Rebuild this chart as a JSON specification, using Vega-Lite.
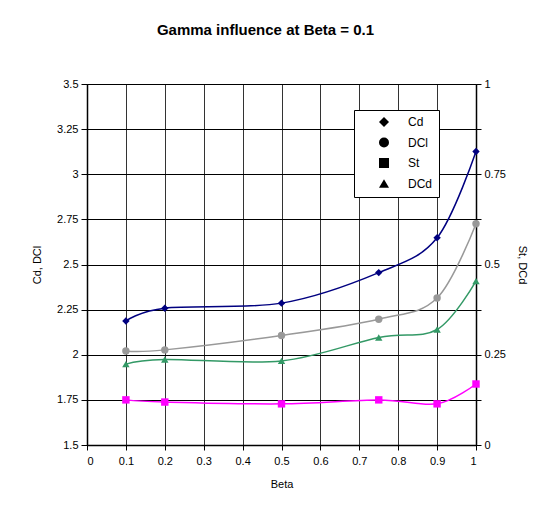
{
  "$schema": "https://vega.github.io/schema/vega-lite/v6.json",
  "autosize": {"type": "none"},
  "width": 389,
  "height": 361,
  "padding": {"left": 87, "top": 84, "right": 73, "bottom": 73},
  "background": "white",
  "title": {
    "text": "Gamma influence at Beta = 0.1",
    "font": "Liberation Sans",
    "fontSize": 15,
    "fontWeight": "bold",
    "color": "black",
    "anchor": "middle",
    "dx": -16,
    "offset": 40
  },
  "data": {
    "values": [
      {"Beta": 0.1, "series": "Cd", "value": 2.187},
      {"Beta": 0.2, "series": "Cd", "value": 2.258},
      {"Beta": 0.5, "series": "Cd", "value": 2.286},
      {"Beta": 0.75, "series": "Cd", "value": 2.455},
      {"Beta": 0.9, "series": "Cd", "value": 2.648},
      {"Beta": 1.0, "series": "Cd", "value": 3.126},
      {"Beta": 0.1, "series": "DCl", "value": 2.021},
      {"Beta": 0.2, "series": "DCl", "value": 2.027},
      {"Beta": 0.5, "series": "DCl", "value": 2.107},
      {"Beta": 0.75, "series": "DCl", "value": 2.197},
      {"Beta": 0.9, "series": "DCl", "value": 2.314},
      {"Beta": 1.0, "series": "DCl", "value": 2.726},
      {"Beta": 0.1, "series": "St", "value": 0.125},
      {"Beta": 0.2, "series": "St", "value": 0.119},
      {"Beta": 0.5, "series": "St", "value": 0.114},
      {"Beta": 0.75, "series": "St", "value": 0.125},
      {"Beta": 0.9, "series": "St", "value": 0.114},
      {"Beta": 1.0, "series": "St", "value": 0.169},
      {"Beta": 0.1, "series": "DCd", "value": 0.224},
      {"Beta": 0.2, "series": "DCd", "value": 0.237},
      {"Beta": 0.5, "series": "DCd", "value": 0.233},
      {"Beta": 0.75, "series": "DCd", "value": 0.298},
      {"Beta": 0.9, "series": "DCd", "value": 0.32},
      {"Beta": 1.0, "series": "DCd", "value": 0.454}
    ]
  },
  "encoding": {
    "x": {
      "field": "Beta",
      "type": "quantitative",
      "scale": {"domain": [0, 1], "nice": false, "zero": false},
      "axis": {
        "title": "Beta",
        "values": [0, 0.1, 0.2, 0.3, 0.4, 0.5, 0.6, 0.7, 0.8, 0.9, 1],
        "labelExpr": "format(datum.value, '.4~g')",
        "grid": true,
        "gridColor": "#333333",
        "gridWidth": 1,
        "tickSize": 5,
        "labelPadding": 5,
        "titlePadding": 12
      }
    }
  },
  "layer": [
    {
      "transform": [{"filter": "datum.series === 'Cd' || datum.series === 'DCl'"}],
      "encoding": {
        "y": {
          "field": "value",
          "type": "quantitative",
          "scale": {"domain": [1.5, 3.5], "nice": false, "zero": false},
          "axis": {
            "title": "Cd, DCl",
            "orient": "left",
            "values": [1.5, 1.75, 2, 2.25, 2.5, 2.75, 3, 3.25, 3.5],
            "labelExpr": "format(datum.value, '.4~g')",
            "grid": true,
            "gridColor": "black",
            "gridWidth": 1,
            "tickSize": 6,
            "labelPadding": 3,
            "titlePadding": 14
          }
        }
      },
      "layer": [
        {
          "mark": {"type": "line", "interpolate": "cardinal", "strokeWidth": 1.5},
          "encoding": {
            "color": {"field": "series", "type": "nominal", "sort": ["Cd", "DCl", "St", "DCd"], "legend": null},
            "detail": {"field": "series"}
          }
        },
        {
          "mark": {"type": "point", "filled": true, "opacity": 1},
          "encoding": {
            "color": {"field": "series", "type": "nominal", "sort": ["Cd", "DCl", "St", "DCd"], "title": null},
            "shape": {
              "field": "series",
              "type": "nominal",
              "sort": ["Cd", "DCl", "St", "DCd"],
              "title": null,
              "legend": {
                "encode": {
                  "symbols": {
                    "update": {
                      "shape": {"signal": "datum.value === 'Cd' ? 'M-4.6,0L4.6,0M0,-0.8L0.8,0L0,0.8L-0.8,0Z' : datum.value === 'DCl' ? 'M-4.6,0L4.6,0M0.6,0A0.6,0.6,0,1,1,-0.6,0A0.6,0.6,0,1,1,0.6,0Z' : datum.value === 'St' ? 'M-4.6,0L4.6,0M-0.7,-0.7L0.7,-0.7L0.7,0.7L-0.7,0.7Z' : 'M-4.6,0L4.6,0M0,-0.9L0.9,0.7L-0.9,0.7Z'"},
                      "fill": {"signal": "datum.value === 'Cd' ? '#000080' : datum.value === 'DCl' ? '#999999' : datum.value === 'St' ? '#FF00FF' : '#339966'"},
                      "stroke": {"signal": "datum.value === 'Cd' ? '#000080' : datum.value === 'DCl' ? '#999999' : datum.value === 'St' ? '#FF00FF' : '#339966'"},
                      "strokeWidth": {"value": 1.5}
                    }
                  }
                }
              }
            },
            "size": {"value": 55}
          }
        }
      ]
    },
    {
      "transform": [{"filter": "datum.series === 'St' || datum.series === 'DCd'"}],
      "encoding": {
        "y": {
          "field": "value",
          "type": "quantitative",
          "scale": {"domain": [0, 1], "nice": false, "zero": false},
          "axis": {
            "title": "St, DCd",
            "orient": "right",
            "values": [0, 0.125, 0.25, 0.375, 0.5, 0.625, 0.75, 0.875, 1],
            "labelExpr": "(datum.value * 4) % 1 === 0 ? format(datum.value, '.4~g') : ''",
            "grid": false,
            "tickSize": 5,
            "labelPadding": 3,
            "titlePadding": 11,
            "titleAngle": 90
          }
        }
      },
      "layer": [
        {
          "mark": {"type": "line", "interpolate": "cardinal", "strokeWidth": 1.5},
          "encoding": {
            "color": {"field": "series", "type": "nominal", "sort": ["Cd", "DCl", "St", "DCd"], "legend": null},
            "detail": {"field": "series"}
          }
        },
        {
          "mark": {"type": "point", "filled": true, "opacity": 1},
          "encoding": {
            "color": {"field": "series", "type": "nominal", "sort": ["Cd", "DCl", "St", "DCd"], "title": null},
            "shape": {"field": "series", "type": "nominal", "sort": ["Cd", "DCl", "St", "DCd"], "title": null},
            "size": {"value": 55}
          }
        }
      ]
    }
  ],
  "resolve": {"scale": {"y": "independent"}},
  "config": {
    "font": "Liberation Sans",
    "view": {"stroke": "black", "strokeWidth": 1},
    "range": {
      "category": ["#000080", "#999999", "#FF00FF", "#339966"],
      "symbol": ["diamond", "circle", "square", "triangle-up"]
    },
    "axis": {
      "labelFont": "Liberation Sans",
      "labelFontSize": 11,
      "labelColor": "black",
      "titleFont": "Liberation Sans",
      "titleFontSize": 11,
      "titleFontWeight": "normal",
      "titleColor": "black",
      "domainColor": "black",
      "domainWidth": 1.5,
      "tickColor": "black",
      "tickWidth": 1
    },
    "legend": {
      "orient": "none",
      "legendX": 267,
      "legendY": 26,
      "padding": 6,
      "strokeColor": "black",
      "fillColor": "white",
      "labelFont": "Liberation Sans",
      "labelFontSize": 12,
      "labelColor": "black",
      "symbolSize": 100,
      "symbolStrokeWidth": 1.5,
      "symbolOffset": 18,
      "labelOffset": 18,
      "rowPadding": 4.5
    }
  }
}
